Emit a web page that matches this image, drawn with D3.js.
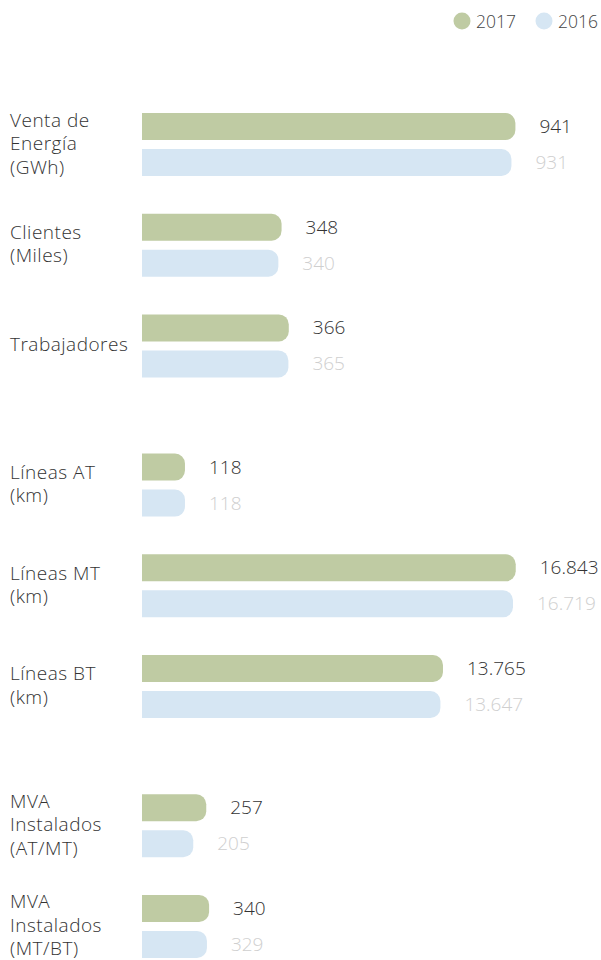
<!DOCTYPE html>
<html>
<head>
<meta charset="utf-8">
<script src="https://cdn.jsdelivr.net/npm/d3@7"></script>
<style>
  html, body { margin: 0; padding: 0; background: #ffffff; }
  svg { display: block; }
  text { font-family: "Open Sans", "Noto Sans", sans-serif; font-weight: 300; }
</style>
</head>
<body>
<svg id="chart" width="601" height="960"></svg>
<script>
// ---- data ----
const categories = [
  ["Venta de", "Energía", "(GWh)"],
  ["Clientes", "(Miles)"],
  ["Trabajadores"],
  ["Líneas AT", "(km)"],
  ["Líneas MT", "(km)"],
  ["Líneas BT", "(km)"],
  ["MVA", "Instalados", "(AT/MT)"],
  ["MVA", "Instalados", "(MT/BT)"]
];
const sections = [0, 0, 0, 1, 1, 1, 2, 2];
const values2017 = [941, 348, 366, 118, 16843, 13765, 257, 340];
const values2016 = [931, 340, 365, 118, 16719, 13647, 205, 329];
const labels2017 = ["941", "348", "366", "118", "16.843", "13.765", "257", "340"];
const labels2016 = ["931", "340", "365", "118", "16.719", "13.647", "205", "329"];
// value that would fill the full bar track in each row (the infographic uses per-row scaling)
const scaleMax = [945, 935, 935, 1030, 16900, 17150, 1500, 1900];
const seriesNames = ["2017", "2016"];

// ---- style ----
const colors = { "2017": "#bfcba3", "2016": "#d6e6f3" };
const valueColors = { "2017": "#333333", "2016": "#cfcfcf" };
const barX = 142, trackW = 375, barH = 27, barGap = 9, radius = 10;

const svg = d3.select("#chart");

// vertical layout
const rowTop = i => 113 + i * 100.7 + sections[i] * 38.5;

// legend
const legend = svg.append("g");
const legendX = d3.scaleOrdinal().domain(seriesNames).range([462, 544]);
seriesNames.forEach(s => {
  legend.append("circle").attr("cx", legendX(s)).attr("cy", 21).attr("r", 8.5).attr("fill", colors[s]);
  legend.append("text").attr("x", legendX(s) + 14).attr("y", 28)
    .attr("font-size", 17.5).attr("fill", "#444").text(s);
});

function barPath(w, h, r) {
  r = Math.min(r, w, h / 2);
  return `M0,0 H${w - r} A${r},${r} 0 0 1 ${w},${r} V${h - r} A${r},${r} 0 0 1 ${w - r},${h} H0 Z`;
}

categories.forEach((lines, i) => {
  const x = d3.scaleLinear().domain([0, scaleMax[i]]).range([0, trackW]);
  const top = rowTop(i);
  const g = svg.append("g");
  const rows = [
    { s: "2017", v: values2017[i], lab: labels2017[i], y: top },
    { s: "2016", v: values2016[i], lab: labels2016[i], y: top + barH + barGap }
  ];
  rows.forEach(r => {
    const w = x(r.v);
    g.append("path")
      .attr("transform", `translate(${barX},${r.y})`)
      .attr("d", barPath(w, barH, radius))
      .attr("fill", colors[r.s]);
    g.append("text")
      .attr("x", barX + w + 24)
      .attr("y", r.y + 20)
      .attr("font-size", 19)
      .attr("fill", valueColors[r.s])
      .text(r.lab);
  });
  const center = top + (2 * barH + barGap) / 2;
  const lh = 23.5;
  lines.forEach((t, k) => {
    g.append("text")
      .attr("x", 10)
      .attr("y", center + (k - (lines.length - 1) / 2) * lh + 5.5)
      .attr("font-size", 19)
      .attr("letter-spacing", 0.5)
      .attr("fill", "#333")
      .text(t);
  });
});
</script>
</body>
</html>
